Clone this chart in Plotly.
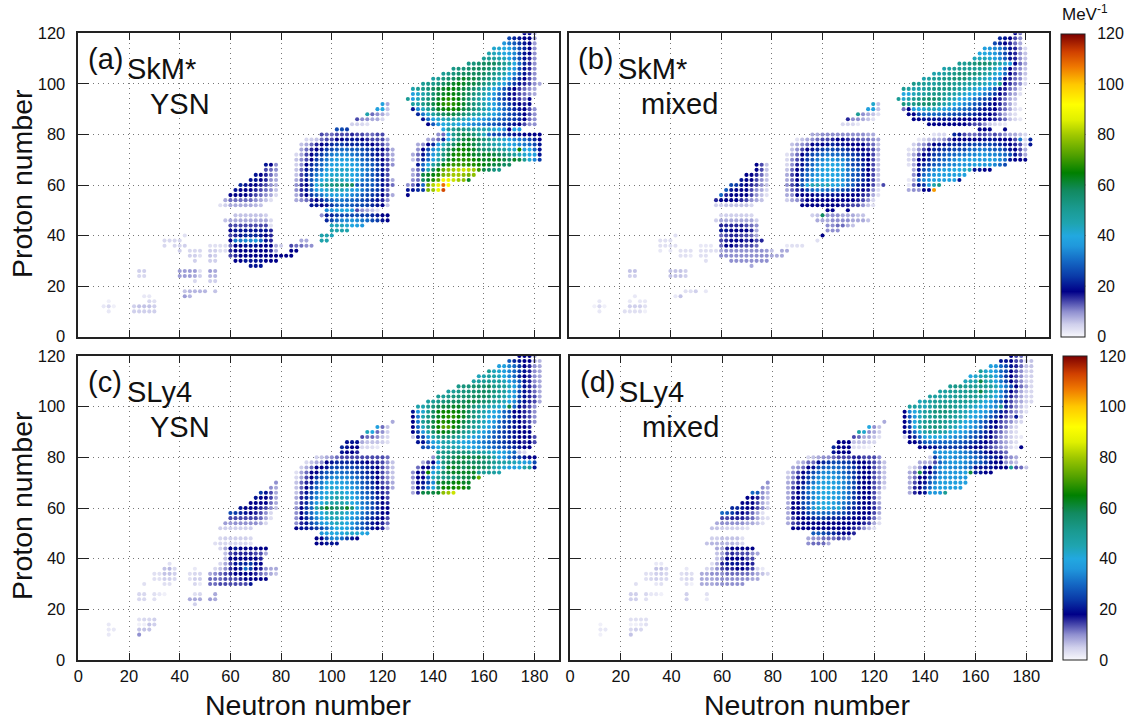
import plotly.graph_objects as go

# (proton number Z, first neutron number N, values in MeV^-1 at N, N+2, N+4, ...)
PANEL_A = [
(120,176,[18,18,8]),(118,170,[26,22,20,18,18,9]),(116,168,[36,32,28,24,20,18,9]),
(114,164,[42,42,40,38,32,26,22,18,10]),(112,162,[46,44,42,40,38,34,26,20,18,10]),
(110,160,[50,50,48,46,44,38,32,26,20,16,10]),
(108,154,[52,54,56,58,58,58,54,50,46,40,30,22,16,10]),
(106,148,[52,54,54,56,58,58,58,56,54,50,48,42,36,26,20,16,10]),
(104,144,[50,52,54,56,58,58,58,58,58,54,52,48,46,40,34,26,20,15,10]),
(102,140,[48,50,54,56,58,60,62,60,60,58,56,54,50,46,42,36,28,22,18,14,10]),
(100,136,[50,52,52,54,58,60,62,64,62,60,60,58,54,50,46,42,38,30,24,20,16,14,10,8]),
(98,132,[46,50,52,54,58,60,62,64,64,62,60,58,56,52,48,44,40,34,28,22,18,15,12,10,8]),
(96,132,[38,42,46,50,56,60,62,64,64,62,60,58,54,50,46,42,36,30,26,20,17,14,12,10,8]),
(94,130,[50,38,44,50,54,58,62,66,68,66,64,60,56,52,48,44,40,34,28,24,20,17,15,12,18]),
(92,132,[48,46,52,56,60,64,68,70,68,66,62,58,54,50,46,42,38,32,28,24,20,18,16,18]),
(90,132,[20,34,44,50,56,62,64,66,66,64,60,58,54,50,46,42,38,34,30,26,22,20,18,14,10]),
(88,134,[22,32,42,48,54,58,60,60,58,56,52,48,46,44,42,38,34,30,26,24,22,18,14,10]),
(86,136,[20,30,38,42,44,46,46,46,44,42,40,38,36,34,32,30,28,26,24,22,18,12,10]),
(84,138,[18,28,36,40,42,42,40,38,36,34,34,32,30,28,26,24,22,20,18,14,10,10]),
(82,144,[40,48,50,54,52,50,48,46,46,44,42,40,34,18,38,36]),
(80,142,[10,12,40,52,56,60,58,56,50,44,30,26,26,24,22,20,20,18,18,18,18]),
(78,138,[8,10,12,22,40,50,56,60,62,60,58,54,50,46,44,42,38,34,32,30,26,22,18]),
(76,134,[8,10,18,22,36,44,52,58,62,64,62,60,56,52,50,46,44,42,40,38,34,32,30,26,20]),
(74,134,[10,18,26,34,42,50,58,62,66,66,64,62,58,56,54,52,50,48,44,42,66,38,40,30,20]),
(72,132,[8,12,20,28,36,44,54,60,66,68,66,64,62,60,62,62,60,58,56,52,48,44,42,40,38,20]),
(70,132,[6,12,22,30,38,46,54,62,66,68,68,68,66,64,62,62,64,62,60,58,62,60,50,42,34,24]),
(68,134,[20,30,40,48,56,64,68,70,70,70,68,68,66,64,62,60,60,58,58]),
(66,132,[8,12,28,46,58,66,74,78,80,82,84,82,80,70,60,58,54,52]),
(64,132,[8,12,60,62,64,68,76,78,80,80,78,76,78]),
(62,132,[10,12,58,62,68,74,90,88,84,80,78,62]),
(60,130,[10,12,20,30,74,82,88,108,92]),(58,130,[20,20,22,24,76,80,88,112]),(56,130,[18]),
# central region
(92,120,[38,8]),(90,118,[38,40,6]),(88,114,[46,12,10,8,5]),(86,110,[14,10,10,8,8,4]),
(84,108,[5,5,4,3]),(82,102,[26,26,24]),
(80,96,[14,12,12,14,14,14,16,14,14,12,12,14,14]),
(78,90,[4,5,6,12,14,14,18,18,20,20,20,18,16,14,14,14,8]),
(76,88,[6,8,12,16,18,20,22,24,24,22,22,22,22,20,18,16,14,10]),
(74,88,[8,12,16,18,20,24,26,28,30,30,28,28,26,24,22,20,18,14,8]),
(72,86,[4,8,14,18,22,24,28,32,34,34,34,32,30,28,26,22,20,16,12,8]),
(70,86,[6,10,14,18,24,28,32,36,38,38,38,36,34,30,28,24,22,18,14,8]),
(68,86,[5,10,18,22,26,30,34,38,38,40,40,38,36,32,30,28,24,20,14,10]),
(66,86,[6,12,20,24,28,32,38,40,42,42,42,40,38,34,32,28,24,20,14]),
(64,86,[6,14,22,26,32,36,40,42,42,42,42,40,36,34,30,28,24,20,14]),
(62,86,[8,14,20,28,34,40,42,44,44,44,42,40,36,32,30,28,24,20,14,8]),
(60,86,[10,16,18,26,40,46,50,52,54,54,56,58,28,28,28,28,24,20,16,12]),
(58,86,[10,16,20,28,36,40,42,44,44,44,42,38,36,32,28,26,24,20,12]),
(56,86,[8,14,18,24,28,32,36,38,38,38,36,34,32,28,26,24,22,18,14,8]),
(54,86,[8,10,12,16,18,22,26,30,32,32,30,30,28,26,24,22,20,16,10]),
(52,92,[20,20,18,20,24,28,30,30,28,26,26,24,22,20,18,6]),
(50,98,[34,36,38,40,40,36,14,10,8,6,3]),
(48,96,[10,20,22,24,26,26,26,26,24,24,22,20,18,18]),
(46,98,[22,26,30,34,34,36,34,32,30,26,24,20,18]),
(44,100,[44,44,44,42,40,38,36]),(42,100,[46,46,46,46]),(40,96,[46,46,44]),
(38,96,[46,46]),(38,88,[8,8]),(36,84,[14,12,12,10,10]),(34,84,[18,18]),
# lower-left region
(48,62,[6,6,6,6,6,6,5]),(46,58,[6,8,8,8,8,8,8,8,8,4]),(44,60,[14,14,14,14,14,14,14,14,3]),
(42,60,[18,20,20,20,20,20,20,20,16]),(40,60,[14,16,20,22,22,22,20,18,16]),
(38,60,[18,32,32,34,34,36,30,20,16]),(36,60,[12,18,18,20,20,20,18,18,18,8,5]),
(34,60,[16,18,18,18,18,18,18,18,16,8]),
(32,60,[14,16,18,18,18,18,18,18,18,18,18,18,18]),
(30,62,[18,18,20,20,20,20,18,18,18]),(28,68,[20,20,20]),
(68,74,[20,18,10]),(66,74,[14,12,10]),(64,70,[20,18,16,12,8]),(62,68,[20,20,18,16,10,8]),
(60,64,[22,20,18,18,16,14,10,7]),(58,62,[20,18,18,18,16,14,12,10,6]),
(56,60,[18,18,18,18,16,14,12,10,8,4]),(54,58,[8,12,12,12,12,12,10,8,6,3]),
(52,56,[3,5,8,8,8,8,8,7,6]),
# light clusters
(40,42,[3]),(38,34,[4,4,4,4]),(36,34,[4]),(36,38,[4,4,5]),(36,52,[3,3,3,3]),
(34,40,[5]),(34,44,[4,4,4]),(34,52,[5,5,3,3]),(32,44,[5,5,3]),(32,52,[6,5]),
(30,46,[5]),(30,52,[5,5]),(26,24,[5,5]),(26,40,[9,9,9,9,3]),(26,52,[9,8]),
(24,24,[4,4]),(24,40,[9,9,9,8,5]),(24,52,[7,7]),(22,46,[4]),(22,52,[5,5]),
(18,42,[6,7,7,7,7]),(18,54,[6]),(16,26,[2,2]),(16,42,[9,7]),(14,12,[1]),(14,28,[4,3]),
(12,10,[2,4,1]),(12,22,[5,6,6,6,5]),(10,12,[2]),(10,22,[5,5,5,5,5]),
]

PANEL_B = [
(120,176,[18,12]),(118,170,[22,20,18,14,10]),(116,168,[26,22,18,16,12,8]),
(114,164,[38,36,34,32,26,20,16,10,4]),(112,162,[40,40,38,36,32,26,20,16,10,6]),
(110,160,[44,44,44,42,38,34,28,20,16,10,6]),
(108,154,[50,50,52,54,56,56,54,50,46,42,36,18,12,8]),
(106,148,[46,48,50,50,50,50,50,50,50,48,44,40,30,18,12,10,6]),
(104,144,[46,46,48,50,52,54,54,54,54,52,48,46,42,40,30,18,14,10,6]),
(102,140,[46,48,50,50,52,52,54,54,54,50,48,46,44,42,36,32,20,16,12,10,4]),
(100,136,[52,50,50,48,48,50,52,52,50,50,48,48,46,46,44,42,42,52,18,15,12,10,4]),
(98,132,[50,48,46,46,48,50,52,52,52,52,50,48,46,44,42,40,38,34,28,20,16,12,10,4]),
(96,132,[40,40,44,46,48,50,52,52,50,48,46,44,42,40,38,36,32,28,24,18,15,10,8,3]),
(94,130,[50,42,46,50,52,54,56,56,54,50,46,44,40,38,36,32,28,26,24,18,16,12,8,6]),
(92,132,[54,50,52,54,56,56,54,50,46,44,40,38,34,32,28,26,22,20,18,16,12,8,4]),
(90,132,[12,18,36,40,42,44,44,42,38,36,34,32,30,28,26,22,20,20,18,14,12,8,4,2]),
(88,134,[18,18,26,30,30,30,30,28,28,26,26,24,24,22,20,20,18,16,12,8,5,3]),
(86,136,[18,18,20,20,20,20,20,20,20,18,18,18,18,18,18,18,16,14,12,6,4,2]),
(84,142,[18,18,18,18,18,18,18,18,16,14,14,10,6,4,3,2]),
(82,162,[18,18,18]),(82,172,[18]),
(80,144,[3,4,4]),(80,152,[22,20,14,12,12,14,14,12,14,12,10,8,8,6,4]),
(78,138,[2,4,6,8,8,10,14,18,18,18,18,18,18,20,20,20,18,18,18,14,32,4,22]),
(76,136,[5,8,10,14,18,20,20,22,22,22,24,24,26,26,26,26,24,22,20,18,16,14,5,20]),
(74,134,[3,5,10,14,18,22,22,24,24,26,26,26,30,30,32,32,30,28,28,24,20,18,14,8]),
(72,134,[4,8,14,18,20,24,26,28,30,30,32,32,34,34,36,36,34,34,32,30,26,20,14,8]),
(70,134,[4,8,18,18,22,26,28,30,32,34,36,36,38,38,36,36,38,36,34,30,20,18,18,18]),
(68,134,[3,8,18,22,24,28,30,32,34,34,36,36,36,38,38,36,36,34,30,26]),
(66,136,[8,20,26,30,34,36,38,38,40,40,42,44,20,20,18,18]),
(64,136,[10,20,30,34,36,38,38,38,38,38,38]),
(62,134,[2,8,28,34,36,38,38,38,38,38,20]),
(60,134,[2,12,20,24,36,46,52]),(58,134,[8,10,10,18,18,104]),
# central region
(92,120,[42,6]),(90,118,[38,38,6]),(88,114,[50,10,8,6,3]),(86,110,[16,10,10,8,6,3]),
(84,108,[4,4,4,2]),(80,96,[8,8,10,10,10,10,10,10,10,10,10,8,8]),
(78,90,[3,6,8,10,12,14,14,16,18,18,16,14,14,12,12,10,8]),
(76,88,[6,8,10,12,18,20,18,20,22,20,20,18,18,18,18,14,12,6]),
(74,88,[6,10,14,18,20,22,24,26,26,24,24,22,20,18,18,16,14,8]),
(72,86,[3,8,12,18,22,26,28,30,32,30,30,28,26,24,22,20,18,14,6]),
(70,86,[4,10,14,20,24,28,32,34,36,36,34,34,30,26,24,20,18,14,6]),
(68,86,[4,10,16,20,24,30,34,36,38,40,38,36,30,26,24,22,18,14,6]),
(66,86,[6,12,18,22,28,32,36,38,40,40,38,38,32,30,28,22,18,14,6]),
(64,86,[8,14,18,26,30,34,36,38,38,40,38,36,32,28,26,22,18,14,6]),
(62,86,[8,12,18,26,30,36,38,40,40,38,38,36,32,28,26,22,20,14,6]),
(60,86,[10,14,20,28,40,44,44,42,44,40,38,36,30,28,22,20,18,14,6,14]),
(58,86,[8,12,16,20,24,30,32,32,30,30,28,26,24,22,20,18,16,10,3]),
(56,86,[8,10,18,18,18,18,20,20,20,20,20,18,18,18,18,16,14,8,3]),
(54,86,[5,8,10,14,18,18,18,18,18,18,18,18,18,18,16,14,10,4]),
(52,92,[18,18,18,18,18,18,18,18,16,16,14,14,10,6,3]),
(50,102,[18,18]),(50,110,[18]),
(48,96,[5,6,58,10,10,10,8,8,8,6,6]),
(46,98,[8,8,8,10,10,10,10,8,8,8,6]),
(44,102,[10,10,12,12,8,6]),(42,102,[10,10,10]),(40,100,[18]),(38,98,[3]),
(36,86,[2,3,3,3]),(34,84,[8,8]),(32,80,[8,8,8]),
# lower-left region
(48,60,[4,5,5,5,5,5,4]),(46,58,[5,8,8,8,8,8,8,8,5]),(44,60,[16,16,16,16,16,14,12,10]),
(42,60,[20,20,18,18,18,18,16,8]),(40,60,[12,14,16,16,14,14,12,8]),
(38,60,[14,16,18,18,18,16,18,14,16]),(36,60,[12,18,18,16,14,14,14,12]),
(34,60,[8,10,10,10,10,10,10,10,10,9,6]),(32,60,[10,10,10,10,10,10,10,10,10,10]),
(30,64,[10,10,10,10,10,10,10,10]),(28,72,[8]),
(68,74,[18,14,6]),(66,74,[18,14,6]),(64,70,[18,18,16,12,6]),(62,68,[20,18,18,14,10,6]),
(60,64,[26,24,20,18,16,14,10,6]),(58,62,[28,20,18,18,18,14,10,8,4]),
(56,60,[30,16,18,18,18,18,14,10,6,3]),(54,58,[16,18,18,18,18,16,14,10,8,6]),
(52,58,[5,5,6,6,6,6,6,4]),
# light clusters
(40,42,[3]),(38,36,[3,3,3]),(36,36,[3,3,3,3]),(36,52,[2,2,2]),(34,36,[2]),(34,40,[2]),
(34,44,[3,3,3]),(34,52,[3,3,3,3]),(32,44,[3,3,2]),(32,52,[3,3]),(30,54,[3]),
(26,24,[6,6]),(26,40,[6,6,6,5]),(24,24,[5,5]),(24,40,[6,6,6,5]),
(18,46,[3,3,5]),(18,54,[2]),(16,26,[2]),(16,42,[2,6]),(14,12,[2]),(14,24,[2]),(14,28,[2,2]),
(12,10,[1,4,1]),(12,24,[5,5,5,3]),(10,12,[2]),(10,22,[3,3,3,3]),(10,30,[1]),
]

PANEL_C = [
(120,174,[18,18,18,8]),(118,170,[28,22,20,18,18,9,7]),
(116,166,[38,38,34,30,24,18,16,10,8]),(114,162,[50,44,42,38,34,30,24,20,16,10,8]),
(112,158,[44,46,48,46,44,40,34,30,22,18,16,10,8]),
(110,156,[48,48,50,50,48,48,44,38,34,28,20,16,10,8]),
(108,150,[52,54,54,56,56,56,58,52,50,48,44,38,30,20,16,12,8]),
(106,146,[48,50,52,54,54,56,56,58,56,54,50,48,42,36,26,20,16,12,8]),
(104,142,[50,50,52,54,54,56,56,58,58,58,56,52,50,46,42,36,26,20,16,14,8]),
(102,138,[48,50,52,54,56,58,58,58,60,60,58,56,54,50,48,44,40,34,24,20,16,14,8]),
(100,134,[46,46,50,54,58,60,60,62,62,60,58,54,50,50,46,44,42,42,60,30,20,16,14,10]),
(98,132,[20,36,42,50,58,64,66,66,66,64,62,58,54,50,46,42,40,36,30,26,18,18,16,14,10]),
(96,132,[18,32,46,52,58,62,66,68,68,66,62,58,54,48,44,40,38,36,30,26,20,18,16,14,10]),
(94,132,[18,32,50,54,60,66,68,66,66,64,60,56,52,48,44,40,36,30,26,24,20,18,16,14,10]),
(92,132,[18,30,44,52,60,66,72,72,66,62,58,54,50,46,42,38,34,30,26,22,20,18,18,16]),
(90,132,[18,24,36,46,56,62,64,62,60,58,52,48,46,42,38,34,30,26,24,22,20,18,18,18]),
(88,132,[6,20,26,36,46,52,56,54,52,48,46,42,38,36,34,32,28,26,24,22,20,18,18,18,14]),
(86,134,[20,20,30,38,42,46,46,44,42,40,38,36,34,32,30,28,26,24,22,20,18,16,18,14]),
(84,136,[26,28,34,40,46,46,46,44,42,40,38,36,34,32,30,28,26,24,22,20,18,18]),
(82,142,[50,52,52,54,54,54,52,50,48,46,44,42,40,38,34,30,6,4]),
(80,140,[10,52,52,56,58,60,60,60,58,60,56,54,46,38,36,30,26,24,20,18,18]),
(78,136,[8,14,18,38,54,58,60,60,60,58,58,58,56,54,50,48,46,46,44,42,38,36,26]),
(76,134,[12,18,18,30,40,50,62,62,60,58,60,60,58,58,54,46,44,42,38,38,40,46,50,20]),
(74,132,[10,18,16,66,38,46,56,60,62,62,62,62,62,50,50,50,48,46]),
(72,132,[10,18,18,30,44,50,52,54,54,58,60,60,62,74]),
(70,132,[8,18,20,26,34,60,62,62,64,66,62,62]),
(68,132,[8,18,22,32,38,56,66,66,66,68,66,62]),
(66,132,[8,16,60,60,60,62,78,80,84]),
# central region
(94,124,[8]),(92,118,[38,12,6]),(90,114,[44,40,12,10,5]),(88,112,[14,12,12,10,6,4]),
(86,106,[20,20,20,8,6,6,6,5,3]),(84,104,[22,20,18,18,4,4,3,2]),(82,104,[20,18,18,16]),
(80,94,[5,6,8,10,12,14,14,14,14,14,14,14,14,14,12]),
(78,90,[4,6,8,10,18,20,22,22,22,22,20,20,18,16,16,14,10,6]),
(76,88,[5,8,12,18,18,20,26,26,26,26,26,24,24,22,20,18,14,10,6]),
(74,86,[3,8,12,18,18,24,28,28,32,30,30,28,26,24,22,20,18,14,10,6]),
(72,86,[4,8,14,18,24,28,30,34,34,34,34,32,30,26,24,22,18,14,10,6]),
(70,86,[6,12,16,20,28,32,38,40,38,38,36,34,32,28,26,22,18,14,12,8]),
(68,86,[6,12,18,24,30,34,40,42,40,40,38,36,34,30,26,24,20,16,14,8]),
(66,86,[6,14,20,26,32,36,40,42,44,42,40,38,34,30,28,24,20,16,14]),
(64,86,[8,16,22,28,34,38,42,44,46,44,42,40,36,32,30,26,22,18,14]),
(62,86,[8,16,22,30,36,40,44,46,48,46,44,40,36,32,30,26,22,18,16]),
(60,86,[10,18,24,30,46,56,62,58,56,56,62,54,38,34,30,26,22,18,18]),
(58,86,[10,18,24,30,36,40,44,46,46,44,42,38,36,32,28,24,22,18,18]),
(56,86,[10,18,22,28,34,38,42,44,44,42,40,36,34,30,26,22,20,18,14]),
(54,86,[10,16,20,26,30,36,38,42,44,42,40,36,32,28,24,20,18,16,12]),
(52,86,[18,20,20,22,24,26,30,36,40,40,38,34,30,28,24,20,18,16,6]),
(50,96,[36,38,40,40,40,42,42,42,40,38]),
(48,94,[18,18,26,34,34,30,24,20,18]),(46,94,[18,18,20,20,20]),
# lower-left region
(70,78,[10]),(68,76,[10,8]),(66,72,[24,20,14,8]),(64,70,[20,18,18,14,8]),
(62,68,[18,18,18,18,12,8]),(60,64,[20,18,18,18,16,14,10,6]),
(58,60,[26,24,22,20,18,16,14,10,4]),(56,60,[14,14,14,14,14,14,12,8,3]),
(54,58,[9,9,10,10,10,10,10,8,4]),(52,56,[5,5,5,5,5,5,5]),
(48,56,[4,5,5,5,5,5,4]),(46,54,[3,4,4,4,4,4,4,3]),
(44,56,[4,8,18,20,18,18,18,18,18,18]),(42,58,[6,14,16,16,16,16,14,14,8]),
(40,58,[6,18,18,18,18,18,18,16]),(38,56,[4,8,14,20,22,22,24,20,18]),
(36,54,[4,6,10,16,18,20,30,24,18,16,10,8,8]),
(34,52,[8,10,12,14,16,18,18,18,18,16,12,10,8,6]),
(32,52,[12,12,12,14,14,14,16,18,18,18,18,18]),(30,52,[12,12,14,14,14,14,14,14,20]),
# light clusters
(38,36,[3]),(36,34,[6,7,4]),(36,46,[2]),(34,30,[3,3,6,6,5]),(34,44,[3,4,4]),
(32,30,[3,3,5,5,4]),(32,44,[3,5,5]),(30,26,[3]),(30,34,[3,3]),(30,46,[4,2]),
(26,24,[4,4]),(26,30,[3,2,1]),(26,46,[3,4]),(26,54,[8]),(24,24,[4,4]),(24,30,[3]),
(24,44,[8,8,8]),(24,52,[9,8]),(22,46,[5]),(16,24,[3,4,4,5]),(14,12,[2]),(14,24,[1,1,6,5]),
(12,12,[2,2]),(12,24,[6,6,6]),(10,12,[2]),(10,24,[10]),
]

PANEL_D = [
(120,174,[18,14,12,4]),(118,170,[20,20,18,14,12,5,6]),(116,166,[38,36,30,26,20,16,12,6,6]),
(114,162,[50,42,40,36,30,26,18,14,10,5,5]),
(112,158,[40,42,44,46,44,38,32,24,18,14,10,5,5]),
(110,156,[44,46,46,60,46,44,38,32,26,18,14,10,5,4]),
(108,150,[50,52,52,50,50,50,50,50,48,44,38,32,26,18,12,8,4]),
(106,146,[48,48,50,50,50,50,52,50,60,48,46,42,34,26,18,14,8,5,4]),
(104,142,[48,48,48,48,48,50,50,50,50,50,48,46,44,40,34,26,16,12,8,5,4]),
(102,138,[44,46,48,50,50,50,50,50,50,50,48,46,44,40,38,32,28,20,14,10,8,5,4]),
(100,134,[48,48,46,44,48,50,52,52,52,50,48,46,44,42,40,38,36,34,52,22,14,10,6,3]),
(98,132,[18,34,40,44,48,50,54,54,54,52,50,46,44,42,40,38,36,32,26,22,16,12,10,6,3]),
(96,132,[18,28,36,44,48,50,52,52,52,50,48,46,44,40,38,36,32,28,24,18,14,10,20,6]),
(94,132,[18,26,40,46,50,52,52,52,50,48,46,44,40,38,34,30,26,20,18,14,12,10,6,4]),
(92,132,[18,24,40,48,52,52,54,52,50,46,44,40,38,36,34,30,24,20,18,14,12,6,4]),
(90,132,[18,20,30,42,46,50,50,48,46,42,40,38,36,32,28,26,22,18,14,12,8,5,3]),
(88,132,[5,18,22,30,38,40,40,40,38,36,34,34,32,28,26,22,20,18,14,10,8,5,3,2]),
(86,134,[18,18,22,28,30,30,30,30,30,28,28,26,24,22,20,18,16,14,10,8,5,3]),
(84,138,[18,18,20,20,24,24,24,24,24,22,20,18,18,16,14,12,10,8,4,2,18]),
(82,144,[34,36,36,36,36,34,32,30,26,24,20,18,16,14,12]),
(80,142,[5,24,34,36,36,34,34,34,32,30,26,24,22,20,18,12,10,8]),
(78,138,[8,8,8,14,30,34,36,36,36,34,32,30,28,24,20,18,18,10,8,6]),
(76,134,[3,6,10,20,18,30,34,36,34,34,34,32,30,20,20,20,20,18,18,18,50,14,12,6]),
(74,134,[8,12,60,20,18,26,34,36,36,36,36,38,60,22,20,18,18]),
(72,134,[8,12,18,18,26,30,36,36,36,36,36,36]),
(70,134,[8,14,18,20,28,34,38,38,38,38,38,38]),
(68,134,[8,16,18,24,30,36,38,38,38,38,38]),
(66,134,[8,16,18,20,36,36,36,50]),
# central region
(94,124,[8]),(92,118,[40,10,6]),(90,114,[46,42,10,8,5]),(88,112,[14,12,8,8,6,3]),
(86,106,[18,18,18,6,6,6,5,4]),(84,104,[22,18,18,18,3,3,2,1]),(82,104,[20,18,18,18]),
(80,94,[4,6,8,10,10,12,14,14,14,16,16,14,14,14,10]),
(78,90,[6,8,12,12,20,22,24,26,26,24,24,20,18,18,16,14,10,6]),
(76,88,[8,10,12,18,20,26,28,30,30,30,28,26,24,20,18,18,14,10,6]),
(74,86,[5,10,14,18,22,26,30,34,34,34,32,30,26,24,20,18,18,14,10,6]),
(72,86,[6,10,16,20,24,30,34,36,36,36,34,32,30,24,20,18,18,14,10,6]),
(70,86,[8,12,16,20,26,32,36,38,38,38,36,34,30,26,20,18,18,14,10,6]),
(68,86,[8,14,18,24,30,36,38,40,40,38,36,34,30,26,20,18,18,14,10,4]),
(66,86,[8,14,18,24,30,34,36,40,40,38,36,34,30,24,20,18,18,14,6]),
(64,86,[8,16,18,24,28,34,38,40,38,38,36,34,30,24,20,18,18,14,6]),
(62,86,[8,18,18,26,28,34,38,40,40,38,34,32,28,24,20,18,18,14,8]),
(60,86,[8,18,18,24,30,36,42,40,40,36,42,30,24,22,20,18,18,16,10]),
(58,86,[8,18,18,20,24,28,30,30,30,28,26,26,22,20,18,18,18,14,8]),
(56,86,[8,14,18,18,20,22,24,24,22,22,22,20,20,18,18,18,16,12,5]),
(54,86,[8,14,16,18,18,18,18,18,18,18,18,18,18,18,18,16,14,8,3]),
(52,88,[18,18,18,18,18,18,18,18,18,18,18,18,16,14,10,6,3]),
(50,96,[28,28,26,24,22,20,18,18,16]),(48,94,[8,10,10,12,12,12,14,12,10]),
(46,94,[10,12,12,12,8]),
# lower-left region
(70,78,[10]),(68,76,[10,8]),(66,72,[30,28,10,7]),(64,70,[18,18,16,10,6]),
(62,68,[18,18,18,14,8,5]),(60,64,[22,22,20,18,18,14,10,5]),
(58,60,[30,28,24,20,18,16,12,8,3]),(56,60,[14,14,16,16,16,14,12,8,4,3]),
(54,58,[8,10,10,10,10,10,8,8,6,3]),(52,56,[6,6,5,5,5,5,4,3]),
(48,56,[5,5,6,6,6,6,3]),(46,54,[6,7,7,7,7,7,6,4]),(44,58,[8,8,16,18,18,18,18,18]),
(42,58,[6,8,14,16,14,14,14,10,8]),(40,58,[6,10,18,18,18,18,14,14]),
(38,56,[3,8,16,20,20,20,16,18,16]),(36,54,[4,6,10,14,16,16,18,18,16,14,4,2]),
(34,52,[8,8,10,10,10,12,12,12,12,12,10,8,6,4]),(32,52,[8,8,8,9,10,10,10,10,10,10,8,8]),
(30,52,[8,8,8,9,10,10,10,10,10]),
# light clusters
(38,34,[2,2]),(36,34,[6,6,4]),(36,46,[2]),(34,30,[3,3,5,5,4]),(34,44,[3,4,3]),
(32,30,[3,4,5,4,4]),(32,44,[3,4,4]),(30,26,[3]),(30,34,[2,3]),(30,46,[3,1]),
(26,24,[5,5]),(26,30,[4,2,2,1]),(26,46,[5]),(26,54,[3]),(24,24,[5,5]),(24,30,[3]),
(24,46,[5]),(24,54,[2]),(16,24,[3,3,3,3]),(14,12,[1]),(14,24,[1,1,2,3]),
(12,12,[2,2]),(12,24,[4,5,4]),(10,12,[1]),(10,24,[6]),
]

STOPS = [(0,"#f8f8fc"),(5,"#d0d0ec"),(10,"#9090d0"),(14,"#4848ac"),(18,"#000088"),(24,"#0a3aa8"),
         (30,"#1468c4"),(36,"#2098dc"),(40,"#22a8e0"),(45,"#1fa4b0"),(51,"#1a9a90"),(58,"#128a60"),
         (65,"#008000"),(72,"#50a000"),(80,"#a0c800"),(86,"#e0f000"),(92,"#ffff00"),(100,"#ffc800"),
         (107,"#ef7800"),(113,"#d04000"),(120,"#7c0000")]
COLORS = [[v / 120, c] for v, c in STOPS]
CBAR_TICKS = [20, 40, 60, 80, 100]

W, H = 1136, 723
fx = lambda p: p / W
fy = lambda p: 1 - p / H

PANELS = [
    ("", PANEL_A, (78.3, 558.5), (33.3, 336.7), "coloraxis", False, True, "(a)", "SkM*", "YSN"),
    ("2", PANEL_B, (569, 1049.3), (33.3, 336.7), "coloraxis", False, False, "(b)", "SkM*", "mixed"),
    ("3", PANEL_C, (78.3, 558.5), (356, 660), "coloraxis2", True, True, "(c)", "SLy4", "YSN"),
    ("4", PANEL_D, (570, 1050.5), (356, 660), "coloraxis2", True, False, "(d)", "SLy4", "mixed"),
]

fig = go.Figure()
ann = []
def text(x, y, s, size=29, **kw):
    ann.append(dict(x=fx(x), y=fy(y), xref="paper", yref="paper", text=s, showarrow=False,
                    font=dict(size=size, color="#111", family="Liberation Sans"),
                    xanchor=kw.pop("xanchor", "left"), yanchor="middle", **kw))

axes = {}
for sfx, rows, xp, yp, cax, xlab, ylab, tag, force, kind in PANELS:
    xs, ys, cs = [], [], []
    for z, n0, vals in rows:
        for i, v in enumerate(vals):
            xs.append(n0 + 2 * i); ys.append(z); cs.append(v)
    order = sorted(range(len(cs)), key=lambda i: cs[i])
    fig.add_trace(go.Scatter(x=[xs[i] for i in order], y=[ys[i] for i in order], mode="markers",
                             xaxis="x" + sfx, yaxis="y" + sfx, showlegend=False,
                             marker=dict(size=4.1, color=[cs[i] for i in order], coloraxis=cax,
                                         line=dict(width=0))))
    common = dict(showgrid=True, griddash="1px,4px", gridcolor="#777777", gridwidth=1, zeroline=False,
                  showline=True, linecolor="#222", linewidth=1.5, mirror="ticks", ticks="inside",
                  tickcolor="#222", tickwidth=1.2,
                  tickfont=dict(size=16.5, color="#111", family="Liberation Sans"))
    axes["xaxis" + sfx] = dict(domain=[fx(xp[0]), fx(xp[1])], range=[0, (xp[1] - xp[0]) / 2.535],
                               tick0=0, dtick=20, ticklen=7, showticklabels=xlab,
                               anchor="y" + sfx, **common)
    axes["yaxis" + sfx] = dict(domain=[fy(yp[1]), fy(yp[0])], range=[0, 120], tick0=0, dtick=20,
                               ticklen=11, showticklabels=ylab, ticklabelstandoff=8,
                               anchor="x" + sfx, **common)
    text(xp[0] + 7.5, yp[0] + 25.5, tag)
    text(xp[0] + 47, yp[0] + 36, force)
    text(xp[0] + 70, yp[0] + 71, kind)

text(22, 184, "Proton number", 28.5, textangle=-90, xanchor="center")
text(22, 506, "Proton number", 28.5, textangle=-90, xanchor="center")
text(308, 705, "Neutron number", 28.5, xanchor="center")
text(807, 705, "Neutron number", 28.5, xanchor="center")
text(1060, 13, "MeV<sup>-1</sup>", 17)

def cbar(x, y0, y1):
    return dict(cmin=0, cmax=120, colorscale=COLORS,
                colorbar=dict(x=fx(x), xanchor="left", y=fy(y1), yanchor="bottom",
                              len=(y1 - y0) / H, lenmode="fraction", thickness=24,
                              thicknessmode="pixels", outlinewidth=1, outlinecolor="#222",
                              ticks="outside", ticklen=9, tickcolor="rgba(0,0,0,0)", tick0=0, dtick=20,
                              xpad=0, ypad=0, borderwidth=0,
                              tickfont=dict(size=16, color="#111", family="Liberation Sans")))

# short ticks reaching in from both edges of each colour bar
shapes = []
for x0, y0, y1 in ((1061.3, 33.3, 336.7), (1062.7, 356, 660)):
    for v in CBAR_TICKS:
        yy = y1 - (y1 - y0) * v / 120
        for a, b in ((x0, x0 + 6), (x0 + 18, x0 + 24)):
            shapes.append(dict(type="line", xref="paper", yref="paper", x0=fx(a), x1=fx(b),
                               y0=fy(yy), y1=fy(yy), line=dict(color="#111", width=1)))

fig.update_layout(width=W, height=H, margin=dict(l=0, r=0, t=0, b=0, autoexpand=False),
                  plot_bgcolor="white", paper_bgcolor="white", annotations=ann, shapes=shapes,
                  coloraxis=cbar(1061.3, 33.3, 336.7), coloraxis2=cbar(1062.7, 356, 660), **axes)
fig.write_html("out.html", config={"displayModeBar": False},
               post_script="document.body.style.margin='0';")
